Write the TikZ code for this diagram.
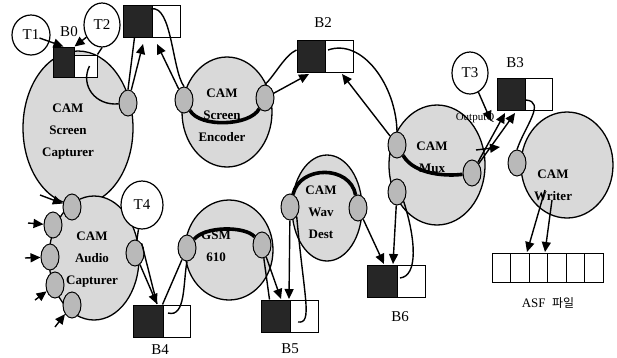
\documentclass[tikz,border=0pt]{standalone}
\usepackage{fontspec}
\setmainfont{Liberation Serif}
\newfontfamily\krfont{Noto Sans CJK KR}
\usetikzlibrary{shapes.geometric,arrows.meta}
\begin{document}
\begin{tikzpicture}[x=1pt,y=-1pt,
  filter/.style={ellipse,draw,line width=1.3pt,fill=gray!30,inner sep=0pt},
  ftext/.style={font=\bfseries\fontsize{13}{22}\selectfont,align=center,inner sep=0pt},
  pin/.style={ellipse,draw,line width=1pt,fill=gray!55,minimum width=18pt,minimum height=26pt,inner sep=0pt},
  tok/.style={ellipse,draw,line width=1.2pt,fill=white,inner sep=0pt,font=\fontsize{15}{15}\selectfont},
  bdark/.style={rectangle,draw,line width=1pt,fill=black!85,inner sep=0pt,minimum width=29pt,minimum height=32pt},
  bwhite/.style={rectangle,draw,line width=1pt,fill=white,inner sep=0pt,minimum width=28pt,minimum height=32pt},
  lab/.style={font=\fontsize{15}{15}\selectfont,inner sep=0pt},
  arr/.style={line width=1.4pt,-{Triangle[length=10pt,width=9pt]}},
  ln/.style={line width=1.4pt},
  thk/.style={line width=3.6pt},
  cell/.style={rectangle,draw,line width=1pt,minimum width=18.5pt,minimum height=29pt,inner sep=0pt}
]
\useasboundingbox (0,0) rectangle (617,357);

% filters
\node[filter,minimum width=110pt,minimum height=154pt] (SC) at (78,128) {};
\node[filter,minimum width=90pt,minimum height=110pt] (SE) at (227,112) {};
\node[filter,minimum width=96pt,minimum height=120pt] (MX) at (437,165) {};
\node[filter,minimum width=92pt,minimum height=106pt] (WR) at (567,165) {};
\node[filter,minimum width=90pt,minimum height=124pt] (AC) at (94,258) {};
\node[filter,minimum width=88pt,minimum height=100pt] (GS) at (229,250) {};
\node[filter,minimum width=70pt,minimum height=106pt] (WD) at (327,208) {};

% filter texts
\node[ftext] (tSC) at (68,132) {CAM\\Screen\\Capturer};
\node[ftext] (tSE) at (222,115) {CAM\\Screen\\Encoder};
\node[ftext] (tMX) at (432,157) {CAM\\Mux};
\node[ftext] (tWR) at (553,185) {CAM\\Writer};
\node[ftext] (tAC) at (92,260) {CAM\\Audio\\Capturer};
\node[ftext] (tGS) at (216,246) {GSM\\610};
\node[ftext] (tWD) at (321,212) {CAM\\Wav\\Dest};

% pins with internal paths
\node[pin] (SEl) at (184,100) {};
\node[pin] (SEr) at (265,98) {};
\node[pin] (MXul) at (397,145) {};
\node[pin] (MXll) at (397,192) {};
\node[pin] (MXr) at (472,173) {};
\node[pin] (GSl) at (187,248) {};
\node[pin] (GSr) at (262,245) {};
\node[pin] (WDl) at (290,207) {};
\node[pin] (WDr) at (358,208) {};
\draw[thk] (SEl) .. controls (200,128) and (250,126) .. (SEr);
\draw[thk] (MXul) .. controls (415,176) and (450,176) .. (MXr);
\draw[thk] (GSl) .. controls (205,226) and (245,226) .. (GSr);
\draw[thk] (WDl) .. controls (300,165) and (350,165) .. (WDr);

% other pins
\node[pin] (SCp) at (128,103) {};
\node[pin] (WRp) at (517,163) {};
\node[pin] (ACr) at (135,253) {};
\node[pin] (AC1) at (72,207) {};
\node[pin] (AC2) at (53,225) {};
\node[pin] (AC3) at (50,257) {};
\node[pin] (AC4) at (55,285) {};
\node[pin] (AC5) at (72,305) {};

% buffers
\node[bdark,minimum width=21pt,minimum height=30pt] (B0d) at (63.5,62) {};
\node[bwhite,minimum width=23pt,minimum height=22pt] (B0w) at (85.5,66) {};
\node[bdark] (B1d) at (137.5,21) {};
\node[bwhite] (B1w) at (166,21) {};
\node[bdark] (B2d) at (311.5,56) {};
\node[bwhite] (B2w) at (339.5,56) {};
\node[bdark,minimum width=28pt] (B3d) at (511,94) {};
\node[bwhite,minimum width=27pt] (B3w) at (538.5,94) {};
\node[bdark,minimum width=30pt] (B4d) at (148,321) {};
\node[bwhite,minimum width=27pt] (B4w) at (176.5,321) {};
\node[bdark] (B5d) at (275.5,316) {};
\node[bwhite] (B5w) at (304,316) {};
\node[bdark,minimum width=30pt] (B6d) at (382,281) {};
\node[bwhite] (B6w) at (411,281) {};

% buffer labels
\node[lab] (lB0) at (69,32) {B0};
\node[lab] (lB2) at (323,23) {B2};
\node[lab] (lB3) at (515,63) {B3};
\node[lab] (lB4) at (160,350) {B4};
\node[lab] (lB5) at (290,349) {B5};
\node[lab] (lB6) at (400,317) {B6};
\node[font=\fontsize{11}{11}\selectfont,inner sep=0pt] (oq) at (475,118) {OutputQ};

% tokens
\node[tok,minimum width=38pt,minimum height=40pt] (T1) at (31,35) {T1};
\node[tok,minimum width=36pt,minimum height=44pt] (T2) at (102,25) {T2};
\node[tok,minimum width=36pt,minimum height=42pt] (T3) at (470,73) {T3};
\node[tok,minimum width=42pt,minimum height=48pt] (T4) at (142,205) {T4};

% ASF file
\foreach \i in {0,...,5} {
  \node[cell] (c\i) at (501.25+18.5*\i,267.5) {};
}
\node[font=\fontsize{13}{13}\selectfont,inner sep=0pt] (asf) at (548,303) {ASF\ \ {\krfont\fontsize{12}{12}\selectfont 파일}};

% coordinates
\coordinate (b1a) at (143,44);
\coordinate (b1b) at (157,44);
\coordinate (b1s) at (151,9);
\coordinate (b2a) at (309,74);
\coordinate (b2b) at (342,74);
\coordinate (b2s) at (328,50);
\coordinate (b3a) at (505,113);
\coordinate (b3b) at (515,113);
\coordinate (b3s) at (526,100);
\coordinate (t3e) at (491,121);
\coordinate (q1) at (476,150);
\coordinate (q2) at (500,147);
\coordinate (w1) at (545,190);
\coordinate (w2) at (552,200);
\coordinate (a1) at (527,252);
\coordinate (a2) at (545,252);
\coordinate (i1) at (40,195);
\coordinate (i2) at (28,223);
\coordinate (i3) at (25,258);
\coordinate (i4) at (35,300);
\coordinate (i5) at (55,327);
\coordinate (b4a) at (157,304);
\coordinate (b4s) at (168,313);
\coordinate (b5a) at (281,299);
\coordinate (b5b) at (289,299);
\coordinate (b5s) at (298,322);
\coordinate (b6a) at (384,264);
\coordinate (b6b) at (393,264);
\coordinate (b6s) at (400,278);

% connectors: top row
\draw[arr,shorten <=9pt] (T1.center) -- (B0d.north);
\draw[arr] (T2) -- (B0d.north east);
\draw[ln] (T2.south) -- (B0w.north east);
\draw[ln] ([xshift=4pt]B0w.center) .. controls (80,85) and (95,106) .. (SCp);
\draw[arr] (SCp) -- (b1a);
\draw[ln] (SCp.north) -- ([xshift=-3pt]B1d.south);
\draw[ln] (b1s) .. controls (172,4) and (172,70) .. (SEl.north);
\draw[arr] (SEl) -- (b1b);
\draw[arr] (SEr) -- (b2a);
\draw[ln] (SEr.north) .. controls (275,75) and (285,55) .. ([yshift=6pt]B2d.west);
\draw[ln] (b2s) .. controls (362,38) and (396,85) .. (MXul.north);
\draw[arr] (MXul) -- (b2b);
\draw[arr] (MXr) -- (b3a);
\draw[arr] (MXr) -- (b3b);
\draw[arr] (T3) -- (t3e);
\draw[arr] (q1) -- (q2);
\draw[ln] (b3s) .. controls (546,102) and (525,126) .. (WRp.north);
\draw[arr] (w1) -- (a1);
\draw[arr] (w2) -- (a2);

% connectors: bottom row
\draw[arr] (i1) -- (AC1);
\draw[arr] (i2) -- (AC2);
\draw[arr] (i3) -- (AC3);
\draw[arr] (i4) -- (AC4);
\draw[arr] (i5) -- (AC5);
\draw[ln] (T4) -- (ACr);
\draw[arr] (ACr) -- (b4a);
\draw[ln] (ACr.north east) -- (b4a);
\draw[ln] (b4s) .. controls (186,318) and (183,282) .. (GSl.south);
\draw[ln] (GSl) -- (B4w.north west);
\draw[arr] (GSr) -- (b5a);
\draw[ln] (GSr) -- ([xshift=9pt]B5d.north west);
\draw[arr] (WDl) -- (b5b);
\draw[ln] (WDl.south east) .. controls (304,298) and (313,324) .. (b5s);
\draw[arr] (WDr) -- (b6a);
\draw[arr] (MXll) -- (b6b);
\draw[ln] (MXll.south east) .. controls (416,240) and (418,276) .. (b6s);
\end{tikzpicture}
\end{document}
